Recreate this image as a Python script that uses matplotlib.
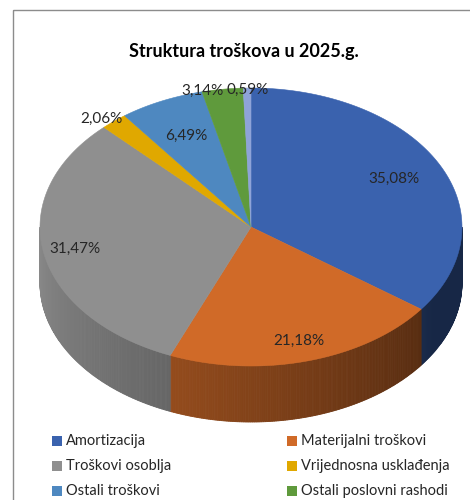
"""Struktura troškova u 2025.g. - 3D pie in the style of an Excel chart."""
import numpy as np
import matplotlib
matplotlib.use("Agg")
import matplotlib.pyplot as plt
from matplotlib.patches import Polygon, Rectangle

categories = ['Amortizacija', 'Materijalni troškovi', 'Troškovi osoblja',
              'Vrijednosna usklađenja', 'Ostali troškovi',
              'Ostali poslovni rashodi', 'Ostalo']
shares = [35.08, 21.18, 31.47, 2.06, 6.49, 3.14, 0.59]
value_labels = ['35,08%', '21,18%', '31,47%', '2,06%', '6,49%', '3,14%', '0,59%']
colors = ['#3a62ae', '#d06a28', '#8f8f8f', '#e0a800', '#4e88c0', '#5f9a3c', '#8ea3d8']
legend_count = 6  # last entry is cut off in the original

# layout of the projected pie (pixel space)
CX, CY = 251, 227
RX, RY = 211, 139
DEPTH = 56
label_r = [0.76, 0.85, 0.85, 1.02, 0.72, 0.99, 0.99]
label_dx = [0, 0, 0, -10, 0, -20, 0]

FONT = ['Lato', 'DejaVu Sans']

fig = plt.figure(figsize=(4.7, 5), dpi=100)
ax = fig.add_axes([0, 0, 1, 1])
ax.set_xlim(0, 470)
ax.set_ylim(500, 0)
ax.axis('off')

# chart frame (right and bottom edges lie outside the crop)
ax.add_patch(Rectangle((13, 10), 600, 600, fill=False, ec='#8c8c8c', lw=1.0))


def rim(t_deg, dy=0.0):
    t = np.radians(t_deg)
    return CX + RX * np.cos(t), CY - RY * np.sin(t) + dy


def shade(t_deg):
    # light from the left: left part of the wall is brighter
    return np.clip(0.40 + 0.57 * (-t_deg - 30) / 150, 0.40, 0.97)


cum = np.concatenate([[0], np.cumsum(shares)])
cum = cum / cum[-1] * 100
starts = 90 - cum[:-1] * 3.6
ends = 90 - cum[1:] * 3.6

# side walls (front half only)
for t0, t1, col in zip(starts, ends, colors):
    lo, hi = max(t1, -180), min(t0, 0)
    if lo >= hi:
        continue
    base = np.array(matplotlib.colors.to_rgb(col))
    edges = np.linspace(lo, hi, int((hi - lo) * 2) + 2)
    for a, b in zip(edges[:-1], edges[1:]):
        xa, ya = rim(a)
        xb, yb = rim(b)
        c = base * shade((a + b) / 2)
        ax.add_patch(Polygon([(xa, ya), (xb, yb), (xb, yb + DEPTH), (xa, ya + DEPTH)],
                             closed=True, fc=c, ec=c, lw=0.6))

# top face
for t0, t1, col in zip(starts, ends, colors):
    ts = np.linspace(t0, t1, max(int(abs(t0 - t1)), 2) + 1)
    xs, ys = rim(ts)
    pts = [(CX, CY)] + list(zip(xs, ys))
    ax.add_patch(Polygon(pts, closed=True, fc=col, ec=col, lw=0.4))

# data labels
for t0, t1, txt, r, dx in zip(starts, ends, value_labels, label_r, label_dx):
    tm = np.radians((t0 + t1) / 2)
    x = CX + RX * r * np.cos(tm) + dx
    y = CY - RY * r * np.sin(tm)
    ax.text(x, y, txt, ha='center', va='center', fontsize=11,
            color='#262626', family=FONT)

ax.text(244, 51, 'Struktura troškova u 2025.g.', ha='center', va='center',
        fontsize=13, fontweight='bold', color='#000000', family=FONT)

# legend, two columns filled row by row
col_x = [52, 287]
row_y = [441, 466, 491]
for i in range(legend_count):
    x = col_x[i % 2]
    y = row_y[i // 2]
    ax.add_patch(Rectangle((x, y - 5), 10, 10, fc=colors[i], ec='none'))
    ax.text(x + 14, y, categories[i], ha='left', va='center', fontsize=10.5,
            color='#262626', family=FONT)

fig.savefig('out.png', dpi=100)
